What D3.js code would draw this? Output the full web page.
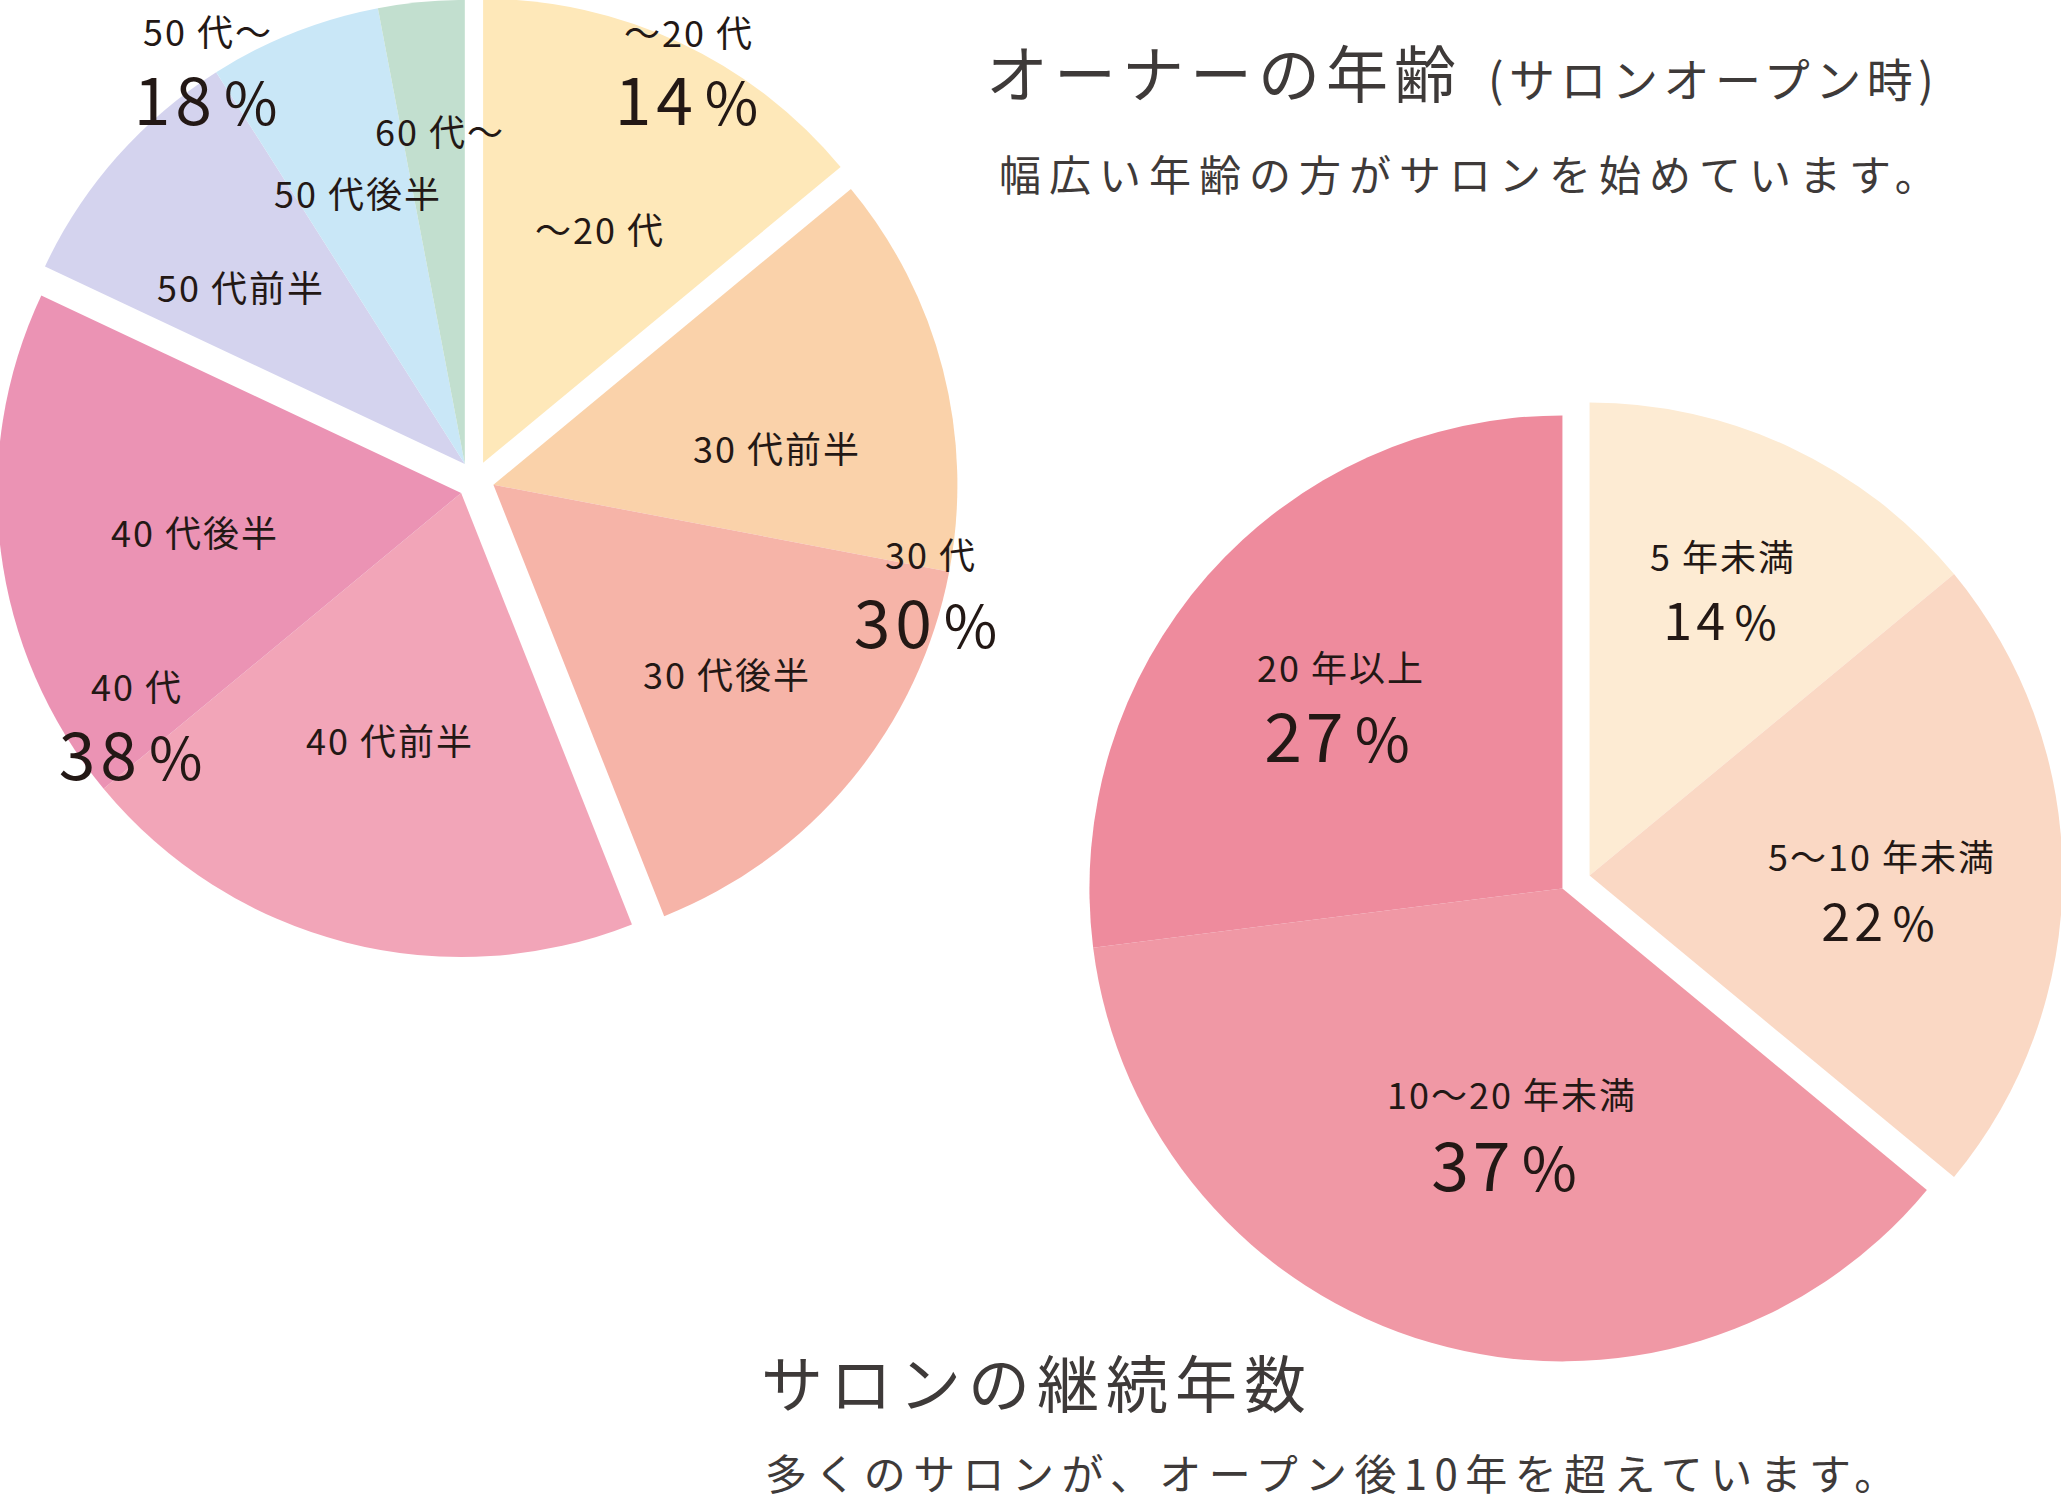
<!DOCTYPE html>
<html>
<head>
<meta charset="utf-8">
<script src="https://cdn.jsdelivr.net/npm/d3@7"></script>
<style>
  body { margin: 0; background: #fff; }
  svg text { font-family: "Noto Sans CJK JP", "Noto Sans", sans-serif; fill: #231815; }
</style>
</head>
<body>
<svg id="chart" width="2061" height="1501"></svg>
<script>
// owner age at salon opening
const ageNames = ["〜20 代", "30 代前半", "30 代後半", "40 代前半", "40 代後半", "50 代前半", "50 代後半", "60 代〜"];
const ageShares = [14, 14, 16, 20, 18, 9, 6, 3];
const ageGroupOf = [0, 1, 1, 2, 2, 3, 3, 3];
const ageGroupNames = ["〜20 代", "30 代", "40 代", "50 代〜"];
const ageGroupShares = [14, 30, 38, 18];
const ageColors = ["#fee8b9", "#fad2aa", "#f6b4a8", "#f2a5b8", "#eb93b4", "#d4d3ee", "#c9e7f7", "#c2dfcf"];

// years in business
const yearNames = ["5 年未満", "5〜10 年未満", "10〜20 年未満", "20 年以上"];
const yearShares = [14, 22, 37, 27];
const yearGroupOf = [0, 0, 1, 1];
const yearGroupShares = [36, 64];
const yearColors = ["#fdebd3", "#fad8c4", "#f098a5", "#ee8b9d"];

// layout (label offsets are relative to each pie's centre)
const agePie = {cx: 475, cy: 480, r: 464, explode: 19};
const yearPie = {cx: 1576, cy: 882, r: 473, explode: 15};
const ageSliceLabelPos = [[125, -236], [302, -17], [252, 209], [-85, 275], [-280, 67], [-234, -178], [-117, -272], [-35, -334]];
const ageGroupLabelPos = [[214, -433], [456, 89], [-338, 221], [-267, -434]];
const ageGroupPctPos = [[214, -355], [453, 168], [-342, 300], [-267, -355]];
const yearLabelPos = [[147, -311], [306, -11], [-64, 227], [-235, -200]];
const yearPctPos = [[146, -242], [304, 59], [-70, 309], [-237, -120]];
const yearPctSize = [52, 52, 68, 68];

const svg = d3.select("#chart");

function drawPie(conf, shares, groupOf, groupShares, colors) {
  const pie = d3.pie().sort(null).value(function(d){ return d; });
  const slices = pie(shares);
  const groups = pie(groupShares);
  const arc = d3.arc().innerRadius(0).outerRadius(conf.r);

  const g = svg.append("g")
      .attr("transform", "translate(" + conf.cx + "," + conf.cy + ")");

  g.selectAll("path")
      .data(slices)
      .enter()
      .append("path")
      .attr("d", arc)
      .attr("fill", function(d, i){ return colors[i]; })
      .attr("transform", function(d, i){
        // push each group out along its own mid angle
        const grp = groups[groupOf[i]];
        const p = d3.pointRadial((grp.startAngle + grp.endAngle) / 2, conf.explode);
        return "translate(" + p[0] + "," + p[1] + ")";
      });

  return g;
}

// number plus a slightly narrower, spaced-out percent sign
function pctText(sel) {
  sel.append("tspan").text(function(d){ return d; });
  sel.append("tspan")
      .attr("dx", "0.12em")
      .style("font-size", "0.88em")
      .text("%");
}

// ---------- left pie ----------
const ageG = drawPie(agePie, ageShares, ageGroupOf, ageGroupShares, ageColors);

ageG.selectAll("text.slice")
    .data(ageNames)
    .enter()
    .append("text")
    .attr("class", "slice")
    .attr("x", function(d, i){ return ageSliceLabelPos[i][0]; })
    .attr("y", function(d, i){ return ageSliceLabelPos[i][1]; })
    .attr("text-anchor", "middle")
    .style("font-size", "36px")
    .style("letter-spacing", "2px")
    .text(function(d){ return d; });

ageG.selectAll("text.group")
    .data(ageGroupNames)
    .enter()
    .append("text")
    .attr("class", "group")
    .attr("x", function(d, i){ return ageGroupLabelPos[i][0]; })
    .attr("y", function(d, i){ return ageGroupLabelPos[i][1]; })
    .attr("text-anchor", "middle")
    .style("font-size", "36px")
    .style("letter-spacing", "2px")
    .text(function(d){ return d; });

ageG.selectAll("text.pct")
    .data(ageGroupShares)
    .enter()
    .append("text")
    .attr("class", "pct")
    .attr("x", function(d, i){ return ageGroupPctPos[i][0]; })
    .attr("y", function(d, i){ return ageGroupPctPos[i][1]; })
    .attr("text-anchor", "middle")
    .style("font-size", "66px")
    .style("letter-spacing", "5px")
    .call(pctText);

// ---------- right pie ----------
const yearG = drawPie(yearPie, yearShares, yearGroupOf, yearGroupShares, yearColors);

yearG.selectAll("text.slice")
    .data(yearNames)
    .enter()
    .append("text")
    .attr("class", "slice")
    .attr("x", function(d, i){ return yearLabelPos[i][0]; })
    .attr("y", function(d, i){ return yearLabelPos[i][1]; })
    .attr("text-anchor", "middle")
    .style("font-size", "36px")
    .style("letter-spacing", "2px")
    .text(function(d){ return d; });

yearG.selectAll("text.pct")
    .data(yearShares)
    .enter()
    .append("text")
    .attr("class", "pct")
    .attr("x", function(d, i){ return yearPctPos[i][0]; })
    .attr("y", function(d, i){ return yearPctPos[i][1]; })
    .attr("text-anchor", "middle")
    .style("font-size", function(d, i){ return yearPctSize[i] + "px"; })
    .style("letter-spacing", "4px")
    .call(pctText);

// ---------- titles ----------
const titles = [
  {text: "オーナーの年齢", x: 986, y: 98, size: 62, sp: 6},
  {text: "(サロンオープン時)", x: 1488, y: 97, size: 46, sp: 5.5},
  {text: "幅広い年齢の方がサロンを始めています。", x: 999, y: 191, size: 42, sp: 8},
  {text: "サロンの継続年数", x: 761, y: 1408, size: 62, sp: 7},
  {text: "多くのサロンが、オープン後10年を超えています。", x: 765, y: 1490, size: 42, sp: 7.4}
];

svg.selectAll("text.title")
    .data(titles)
    .enter()
    .append("text")
    .attr("class", "title")
    .attr("x", function(d){ return d.x; })
    .attr("y", function(d){ return d.y; })
    .style("font-size", function(d){ return d.size + "px"; })
    .style("letter-spacing", function(d){ return d.sp + "px"; })
    .style("fill", "#3e3a39")
    .text(function(d){ return d.text; });
</script>
</body>
</html>
